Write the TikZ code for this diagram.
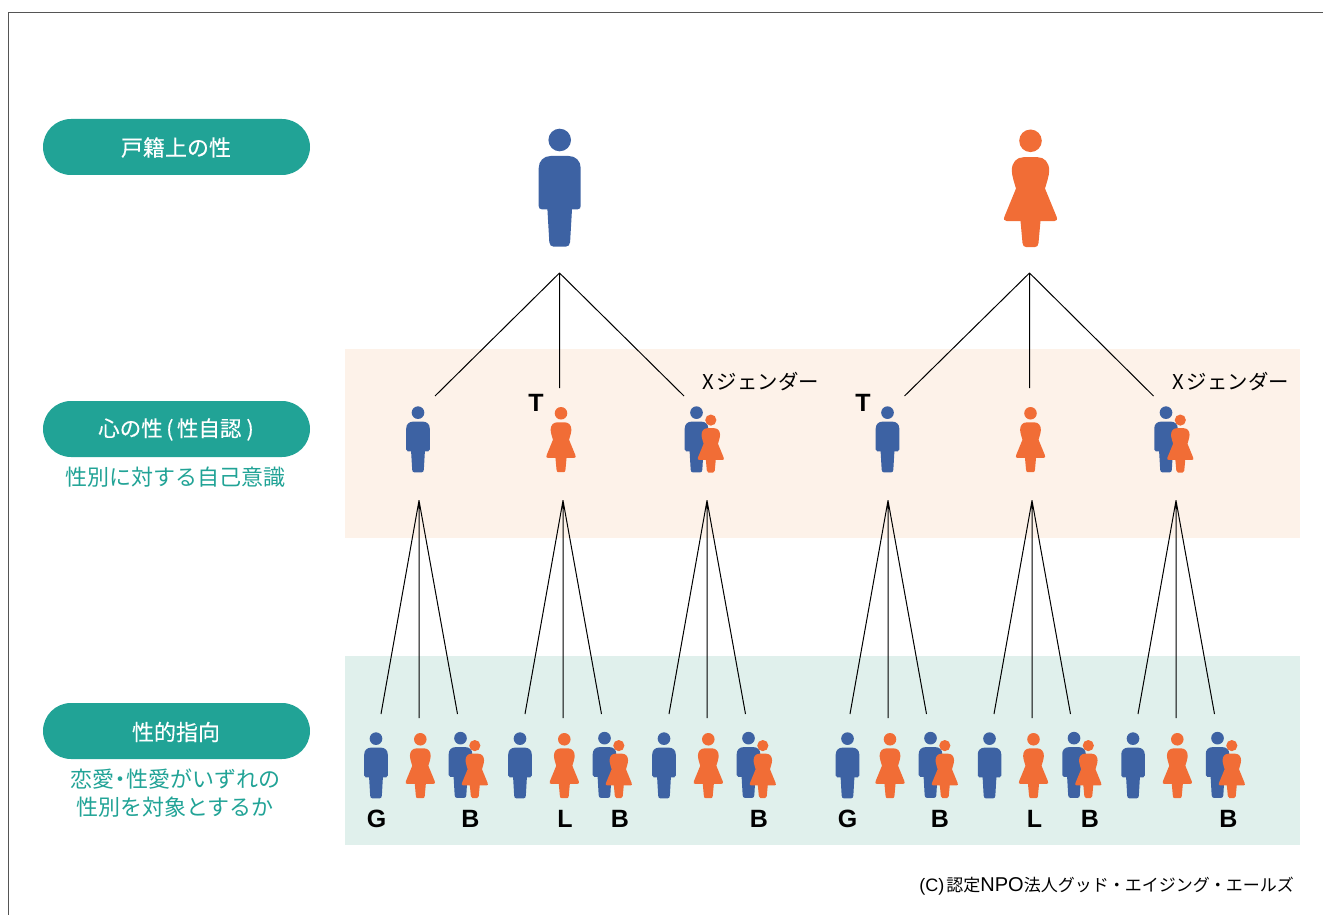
\documentclass[tikz,border=0pt]{standalone}
\usepackage{fontspec}
\setmainfont{Liberation Sans}
\newfontfamily\jp{Noto Sans CJK JP}
\newfontfamily\jpm[FakeBold=0.3]{Noto Sans CJK JP}
\definecolor{manblue}{HTML}{3D62A3}
\definecolor{womanorange}{HTML}{F16D36}
\definecolor{pillteal}{HTML}{21A396}
\definecolor{peachband}{HTML}{FDF2E9}
\definecolor{tealband}{HTML}{E0F0EC}
\definecolor{framegrey}{HTML}{555555}
\tikzset{
  x=1pt,y=-1pt,
  pics/man/.style={code={
    \begin{scope}[scale=#1]
      \fill[manblue] (0,11) circle[radius=11.3];
      \fill[manblue] (-9,27) -- (9,27) .. controls (16,27) and (21,32) .. (21,39)
        -- (21,77) .. controls (21,79) and (20,80.3) .. (18,80.3) -- (12.3,80.3)
        -- (10.4,113) .. controls (10.2,116) and (8.5,117.7) .. (6,117.7) -- (-6,117.7)
        .. controls (-8.5,117.7) and (-10.2,116) .. (-10.4,113) -- (-12.3,80.3) -- (-18,80.3)
        .. controls (-20,80.3) and (-21,79) .. (-21,77) -- (-21,39)
        .. controls (-21,32) and (-16,27) .. (-9,27) -- cycle;
    \end{scope}}},
  pics/woman/.style={code={
    \begin{scope}[scale=#1]
      \fill[womanorange] (0,11.3) circle[radius=11.3];
      \fill[womanorange] (-7,27.7) -- (7,27.7) .. controls (14,27.7) and (18.7,33) .. (18.7,41)
        .. controls (18.7,46) and (16,54) .. (14.5,59) -- (26,87)
        .. controls (27.3,90) and (26,91.5) .. (24,91.5) -- (10,91.5)
        -- (8,113.5) .. controls (7.7,116.3) and (6.5,117.5) .. (4.5,117.5) -- (-4.5,117.5)
        .. controls (-6.5,117.5) and (-7.7,116.3) .. (-8,113.5) -- (-10,91.5) -- (-24,91.5)
        .. controls (-26,91.5) and (-27.3,90) .. (-26,87) -- (-14.5,59)
        .. controls (-16,54) and (-18.7,46) .. (-18.7,41)
        .. controls (-18.7,33) and (-14,27.7) .. (-7,27.7) -- cycle;
    \end{scope}}},
  pill/.style={fill=pillteal,rounded corners=28pt,minimum width=267pt,minimum height=56pt,inner sep=0pt},
  pilltext/.style={text=white,inner sep=0pt,font=\jpm\fontsize{22}{26}\selectfont},
  sidenote/.style={text=pillteal,align=center,inner sep=0pt,font=\jp\fontsize{22}{27.5}\selectfont},
  xlabel/.style={inner sep=0pt,font=\jp\fontsize{20.4}{24}\selectfont},
  letter/.style={inner sep=0pt,font=\bfseries\fontsize{25}{29}\selectfont},
  link/.style={draw=black,line width=1pt,line join=round},
}
\newcommand{\couple}[2]{%
  \pic at (#1,#2) {man=.56};
  \pic at (#1+14.3,#2+8) {woman=.495};
}
\begin{document}
\begin{tikzpicture}
\useasboundingbox (0,0) rectangle (1323,915);
\fill[peachband] (345,349) rectangle (1300,538);
\fill[tealband] (345,656) rectangle (1300,845);
\draw[framegrey,line width=1pt] (8.5,915) -- (8.5,12.5) -- (1323,12.5);

\node[pill] (p1) at (176.5,147) {};
\node[pilltext] (p1t) at (176,147.5) {戸籍上の性};
\node[pill] (p2) at (176.5,429) {};
\node[pilltext,font=\jpm\fontsize{21.5}{26}\selectfont] (p2t) at (176,429.5) {心の性\hspace{3.5pt}(\hspace{3.5pt}性自認\hspace{5pt})\hspace{2.5pt}};
\node[pill] (p3) at (176.5,731) {};
\node[pilltext] (p3t) at (176,732) {性的指向};
\node[sidenote] (n2) at (175.5,477.5) {性別に対する自己意識};
\node[sidenote] (n3) at (175,793) {恋愛\hspace{-5pt}・\hspace{-5pt}性愛がいずれの\\性別を対象とするか};

\pic at (559.7,129) {man=1};
\pic at (1030.5,129.5) {woman=1};

\coordinate (ma) at (559.5,273);
\coordinate (wa) at (1029.5,273);
\coordinate (m1) at (435,396);
\coordinate (m2) at (559.5,388);
\coordinate (m3) at (684,396);
\coordinate (w1) at (904.5,396);
\coordinate (w2) at (1029.5,388);
\coordinate (w3) at (1153.5,396);
\draw[link] (m1) -- (ma) -- (m3) (ma) -- (m2);
\draw[link] (w1) -- (wa) -- (w3) (wa) -- (w2);

\foreach \n/\ax in {a/419,b/563,c/707,d/888,e/1032,f/1176}{
  \coordinate (\n0) at (\ax,500.5);
  \coordinate (\n1) at (\ax-38,714);
  \coordinate (\n2) at (\ax,718);
  \coordinate (\n3) at (\ax+38.5,714);
  \draw[link] (\n1) -- (\n0) -- (\n3) (\n0) -- (\n2);
}

\pic at (418,406.5) {man=.56};
\pic at (561,407) {woman=.555};
\couple{696.5}{406.5}
\pic at (887.5,406.5) {man=.56};
\pic at (1030.5,407) {woman=.555};
\couple{1166}{406.5}

\foreach \m/\w/\c in {376/420.3/460.5,520/564.3/604.5,664/708.3/748.5,847.5/890/930.5,989.5/1033.5/1074,1133/1177.3/1217.5}{
  \pic at (\m,732.5) {man=.56};
  \pic at (\w,733) {woman=.555};
  \couple{\c}{732}
}

\node[xlabel] (x1) at (760.5,382) {X\hspace{3pt}ジェンダー};
\node[xlabel] (x2) at (1230.5,382) {X\hspace{3pt}ジェンダー};
\node[letter] (t1) at (536,402.5) {T};
\node[letter] (t2) at (863,402.5) {T};
\node[letter] (l1) at (376.5,818.5) {G};
\node[letter] (l2) at (470.5,818.5) {B};
\node[letter] (l3) at (565,818.5) {L};
\node[letter] (l4) at (620,818.5) {B};
\node[letter] (l5) at (759,818.5) {B};
\node[letter] (l6) at (847.5,818.5) {G};
\node[letter] (l7) at (940,818.5) {B};
\node[letter] (l8) at (1034.5,818.5) {L};
\node[letter] (l9) at (1090,818.5) {B};
\node[letter] (l10) at (1228.5,818.5) {B};
\node[inner sep=0pt,anchor=east,font=\jp\fontsize{17}{20}\selectfont] (cr) at (1294,886.5) {{\rmfamily\fontsize{18}{20}\selectfont(C)\hspace{2pt}}認定{\rmfamily\fontsize{20}{20}\selectfont NPO}法人グッド\hspace{-.5pt}・\hspace{-.5pt}エイジング\hspace{-.5pt}・\hspace{-.5pt}エールズ};
\end{tikzpicture}
\end{document}
